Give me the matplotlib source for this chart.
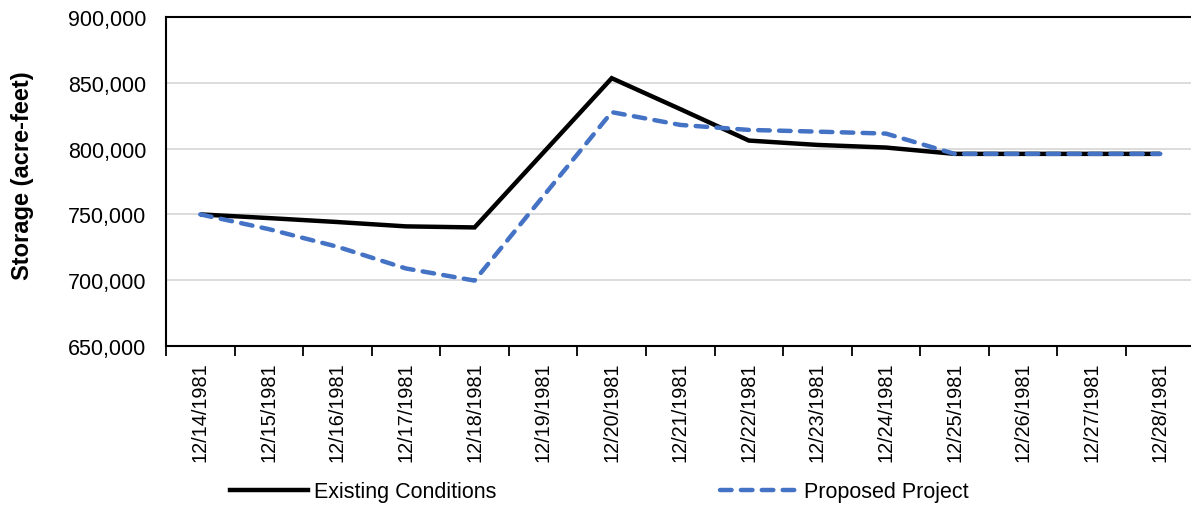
import matplotlib
matplotlib.use("Agg")
import matplotlib.pyplot as plt
from matplotlib.lines import Line2D
from matplotlib.ticker import FuncFormatter, FixedLocator

plt.rcParams['font.family'] = ['Liberation Sans', 'DejaVu Sans']

dates = ["12/14/1981", "12/15/1981", "12/16/1981", "12/17/1981", "12/18/1981",
         "12/19/1981", "12/20/1981", "12/21/1981", "12/22/1981", "12/23/1981",
         "12/24/1981", "12/25/1981", "12/26/1981", "12/27/1981", "12/28/1981"]
existing = [750000, 747200, 744200, 740900, 740100, 796800, 853500, 830000,
            806100, 802800, 800800, 796000, 796000, 796000, 796000]
proposed = [750000, 738800, 725400, 708900, 699700, 763700, 827700, 818000,
            814200, 812900, 811400, 796000, 796000, 796000, 796000]
yticks = [650000, 700000, 750000, 800000, 850000, 900000]

W, H = 1191, 510
fig = plt.figure(figsize=(W / 100, H / 100), dpi=100)
left, right, top, bottom = 166, 1194.6, 18, 347
ax = fig.add_axes([left / W, 1 - bottom / H, (right - left) / W, (bottom - top) / H])

x = list(range(len(dates)))
ax.plot(x, existing, color='black', lw=3.2, solid_capstyle='butt', solid_joinstyle='miter',
        label='Existing Conditions', zorder=3)
ax.plot(x, proposed, color='#4472C4', lw=3.2, dashes=(2.6, 2.1), dash_capstyle='round',
        label='Proposed Project', zorder=4)

ax.set_xlim(-0.5, len(dates) - 0.5)
ax.set_ylim(650000, 900000)
ax.set_yticks(yticks)
ax.yaxis.set_major_formatter(FuncFormatter(lambda v, p: f"{int(v):,}"))
ax.tick_params(axis='y', length=0, pad=14, labelsize=15.5)
ax.grid(axis='y', color='#d9d9d9', lw=1.3)
ax.set_axisbelow(True)

ax.set_xticks(x)
ax.set_xticklabels(dates, rotation=90, fontsize=14.3)
ax.tick_params(axis='x', which='major', length=0, pad=11)
ax.xaxis.set_minor_locator(FixedLocator([i - 0.5 for i in range(len(dates) + 1)]))
ax.tick_params(axis='x', which='minor', length=7, width=1.3, color='black', direction='out')

for s in ['left', 'bottom', 'top']:
    ax.spines[s].set_color('black')
    ax.spines[s].set_linewidth(1.5)
ax.spines['right'].set_visible(False)

fig.text(23 / W, 1 - 176 / H, "Storage (acre-feet)", rotation=90, fontsize=17,
         fontweight='bold', ha='center', va='center')

fig.text(575 / W, 1 + 5 / H, "(Storage in Acre-feet)", fontsize=17, fontweight='bold',
         ha='center', va='baseline')

handles = [Line2D([], [], color='black', lw=3.2),
           Line2D([], [], color='#4472C4', lw=3.2, dashes=(2.6, 2.1), dash_capstyle='round')]
fig.legend(handles, ['Existing Conditions', 'Proposed Project'], ncol=2,
           loc='center left', bbox_to_anchor=(230 / W, 1 - 493 / H), frameon=False,
           fontsize=15.5, handlelength=3.6, handletextpad=0.3, columnspacing=10.4,
           borderaxespad=0, borderpad=0)

fig.savefig("out.png", dpi=100)
